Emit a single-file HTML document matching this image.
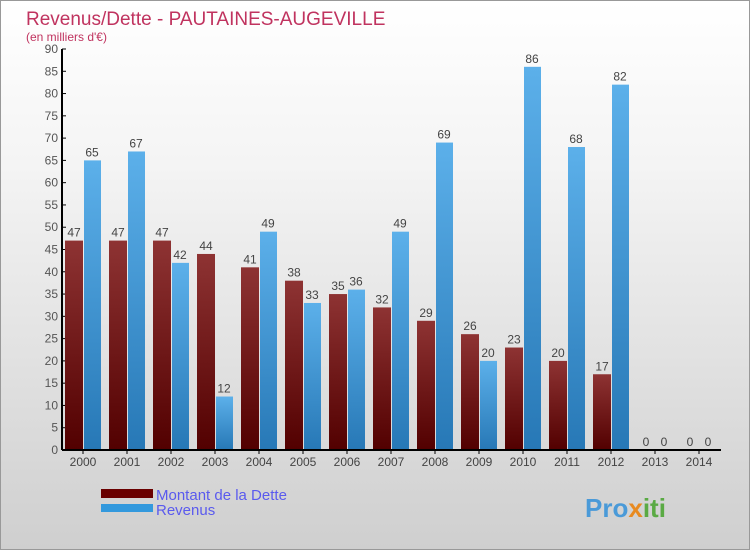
<!DOCTYPE html>
<html><head><meta charset="utf-8"><style>
body{margin:0}
#wrap{position:relative;width:748px;height:548px;border:1px solid #999;background:linear-gradient(#fff,#f4f4f4 30%,#cfcfcf);font-family:"Liberation Sans",sans-serif;overflow:hidden}
</style></head><body>
<div id="wrap">
<svg id="svg" width="748" height="548">
<defs>
<linearGradient id="gd" x1="0" y1="0" x2="0" y2="1"><stop offset="0" stop-color="#8e3333"/><stop offset="1" stop-color="#520000"/></linearGradient>
<linearGradient id="gr" x1="0" y1="0" x2="0" y2="1"><stop offset="0" stop-color="#5cb0ea"/><stop offset="1" stop-color="#2778b6"/></linearGradient>
</defs>
<text x="25" y="24" font-size="19" fill="#c0335f">Revenus/Dette - PAUTAINES-AUGEVILLE</text>
<text x="25" y="40" font-size="12" fill="#c0335f">(en milliers d'€)</text>
<g id="g"></g>
<rect x="100" y="488" width="52" height="9" fill="#6a0000"/>
<rect x="100" y="503" width="52" height="8" fill="#3399dd"/>
<text x="155" y="499" font-size="15" fill="#5a5aee">Montant de la Dette</text>
<text x="155" y="514" font-size="15" fill="#5a5aee">Revenus</text>
<text x="584" y="516" font-size="26" font-weight="bold" fill="#4a9ad8">Pro<tspan fill="#e88a20">x</tspan><tspan fill="#5aaa44">iti</tspan></text>
</svg>
</div>
<script>
const years=["2000","2001","2002","2003","2004","2005","2006","2007","2008","2009","2010","2011","2012","2013","2014"];
const dette=[47,47,47,44,41,38,35,32,29,26,23,20,17,0,0];
const revenus=[65,67,42,12,49,33,36,49,69,20,86,68,82,0,0];
const yTicks=[0,5,10,15,20,25,30,35,40,45,50,55,60,65,70,75,80,85,90];
const NS="http://www.w3.org/2000/svg";
const g=document.getElementById('g');
const y0=449,y1=48,x0=61;
const Y=v=>y0-(v/90)*(y0-y1);
const X=i=>82+i*44;
function el(t,a,p){const e=document.createElementNS(NS,t);for(const k in a)e.setAttribute(k,a[k]);(p||g).appendChild(e);return e;}
yTicks.forEach(v=>{
 const t=el('text',{x:x0-4,y:Y(v)+4,'font-size':12,fill:'#555','text-anchor':'end'});t.textContent=v;
 
 
 const l=el('line',{x1:x0,x2:x0+4,y1:Y(v),y2:Y(v),stroke:'#000'});
 
 
});
years.forEach((yr,i)=>{
 const c=X(i);
 const rd=el('rect',{x:c-18,y:Y(dette[i]),width:18,height:y0-Y(dette[i]),fill:'url(#gd)'});
 
 
 const rr=el('rect',{x:c+1,y:Y(revenus[i]),width:17,height:y0-Y(revenus[i]),fill:'url(#gr)'});
 
 
 const td=el('text',{x:c-9,y:Y(dette[i])-4,'font-size':12,fill:'#444','text-anchor':'middle'});td.textContent=dette[i];
 
 
 const tr=el('text',{x:c+9,y:Y(revenus[i])-4,'font-size':12,fill:'#444','text-anchor':'middle'});tr.textContent=revenus[i];
 
 
 const tx=el('text',{x:c,y:465,'font-size':12,fill:'#444','text-anchor':'middle'});tx.textContent=yr;
 
 
 const tk=el('line',{x1:c,x2:c,y1:y0,y2:y0+4,stroke:'#000'});
 
 
});
const ax=el('line',{x1:x0,x2:x0,y1:y1,y2:y0,stroke:'#000','stroke-width':2});


const axx=el('line',{x1:x0,x2:720,y1:y0,y2:y0,stroke:'#000','stroke-width':2});


</script>
</body></html>
